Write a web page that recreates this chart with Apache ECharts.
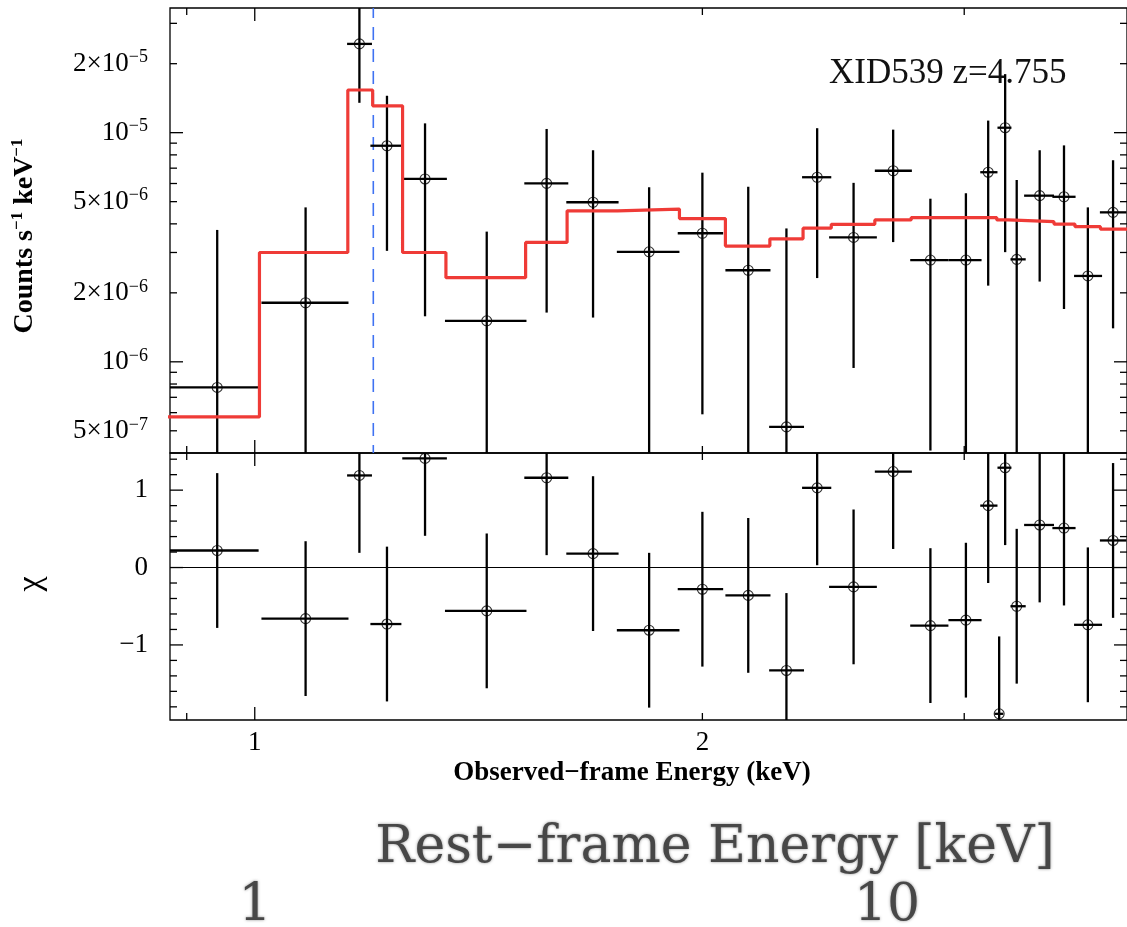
<!DOCTYPE html>
<html>
<head>
<meta charset="utf-8">
<script src="https://cdn.jsdelivr.net/npm/echarts@6/dist/echarts.min.js"></script>
<style>
  html, body { margin: 0; padding: 0; background: #fff; }
  #chart { width: 1127px; height: 927px; }
</style>
</head>
<body>
<div id="chart"></div>
<script>
// ---- Spectrum of XID539: observed-frame bins (keV) ----
const energy   = [0.9435, 1.0819, 1.1759, 1.2272, 1.3017, 1.4322, 1.5714, 1.6885, 1.8417, 2.0000, 2.1472, 2.2780, 2.3890, 2.5276, 2.6874, 2.8469, 3.0078, 3.1134, 3.1668, 3.1963, 3.2540, 3.3718, 3.5012, 3.6330, 3.7776];
const energyLo = [0.8700, 1.0104, 1.1537, 1.1961, 1.2566, 1.3425, 1.5180, 1.6200, 1.7519, 1.9251, 2.0726, 2.2178, 2.3338, 2.4336, 2.6122, 2.7593, 2.9275, 3.0754, 3.1440, 3.1585, 3.2227, 3.2915, 3.4388, 3.5562, 3.7013];
const energyHi = [1.0060, 1.1562, 1.1990, 1.2549, 1.3465, 1.5231, 1.6250, 1.7566, 1.9302, 2.0654, 2.2224, 2.3409, 2.4418, 2.6204, 2.7664, 2.9275, 3.0816, 3.1585, 3.1872, 3.2275, 3.2996, 3.4473, 3.5645, 3.7138, 3.8570];

// Count rate (counts s^-1 keV^-1) with 1-sigma errors; null = not positive
const counts    = [7.73e-7, 1.81e-6, 2.44e-5, 8.77e-6, 6.28e-6, 1.51e-6, 6.01e-6, 4.97e-6, 3.02e-6, 3.64e-6, 2.51e-6, 5.20e-7, 6.39e-6, 3.49e-6, 6.82e-6, 2.78e-6, 2.78e-6, 6.72e-6, null, 1.051e-5, 2.80e-6, 5.31e-6, 5.25e-6, 2.37e-6, 4.49e-6];
const countsErr = [2.99e-6, 2.91e-6, 1.09e-5, 5.72e-6, 4.70e-6, 2.19e-6, 4.37e-6, 3.41e-6, 2.76e-6, 3.05e-6, 3.30e-6, 3.30e-6, 4.07e-6, 2.55e-6, 3.49e-6, 2.37e-6, 2.66e-6, 4.57e-6, null, 7.50e-6, 3.42e-6, 3.07e-6, 3.55e-6, 2.35e-6, 3.09e-6];

// Residuals (data - model) / error
const chi    = [0.22, -0.66, 1.19, -0.73, 1.41, -0.56, 1.16, 0.18, -0.81, -0.28, -0.36, -1.33, 1.03, -0.25, 1.24, -0.75, -0.68, 0.80, -1.89, 1.29, -0.50, 0.55, 0.51, -0.74, 0.35];
const chiErr = [1, 1, 1, 1, 1, 1, 1, 1, 1, 1, 1, 1, 1, 1, 1, 1, 1, 1, 1, 1, 1, 1, 1, 1, 1];

// Folded model (step per channel group)
const modelEdges  = [0.870, 1.0073, 1.1550, 1.2003, 1.2572, 1.3445, 1.5211, 1.6220, 1.7539, 1.9302, 2.0726, 2.2203, 2.3374, 2.4418, 2.6122, 2.7635, 3.1551, 3.2112, 3.4473, 3.5612, 3.7047, 3.900];
const modelValues = [5.75e-7, 3.00e-6, 1.535e-5, 1.31e-5, 3.00e-6, 2.33e-6, 3.32e-6, 4.56e-6, 4.64e-6, 4.22e-6, 3.20e-6, 3.44e-6, 3.83e-6, 3.98e-6, 4.16e-6, 4.26e-6, 4.16e-6, 4.09e-6, 3.99e-6, 3.89e-6, 3.79e-6];

// Expected Fe line position (observed frame, keV)
const lineEnergy = 1.2015;

// Tick marks and labels
const energyMajorTicks = [1];
const energyMinorTicks = [0.9, 2, 3];
const energyTickLabels = [1, 2];
const countMajorTicks = [1e-6, 1e-5];
const countMinorTicks = [5e-7, 6e-7, 7e-7, 8e-7, 9e-7, 2e-6, 3e-6, 4e-6, 5e-6, 6e-6, 7e-6, 8e-6, 9e-6, 2e-5, 3e-5];
const countTickLabels = [5e-7, 1e-6, 2e-6, 5e-6, 1e-5, 2e-5];
const chiMajorTicks = [-1, 0, 1];
const chiMinorTicks = [-1.8, -1.6, -1.4, -1.2, -0.8, -0.6, -0.4, -0.2, 0.2, 0.4, 0.6, 0.8, 1.2, 1.4];
const chiTickLabels = [-1, 0, 1];
const restTickLabels = [1, 10];

// Axis ranges
const X_MIN = 0.877, X_MAX = 3.86;
const Y_MIN = 4e-7, Y_MAX = 3.5e-5;
const CHI_MIN = -1.97, CHI_MAX = 1.48;

const SERIF = '"Liberation Serif", "Times New Roman", serif';
const LABEL_FONT = '27px ' + SERIF;
const LABEL_RICH = {
  m: { fontSize: 27, fontFamily: SERIF, lineHeight: 30, fill: '#000', color: '#000' },
  s: { fontSize: 18, fontFamily: SERIF, lineHeight: 16, verticalAlign: 'top', fill: '#000', color: '#000' }
};

function fmtCount(v) {
  const e = Math.floor(Math.log10(v) + 1e-9);
  const m = Math.round(v / Math.pow(10, e));
  return '{m|' + (m === 1 ? '' : m + '×') + '10}{s|−' + (-e) + '}';
}
function fmtPlain(v) {
  return v < 0 ? '−' + Math.abs(v) : String(v);
}

// Inward ticks on all four sides plus tick labels, in the style of a PGPLOT frame
function frameRenderer(cfg) {
  return function (params, api) {
    const cs = params.coordSys;
    const L = cs.x, R = cs.x + cs.width, T = cs.y, B = cs.y + cs.height;
    const kids = [];
    const ln = (x1, y1, x2, y2) => kids.push({
      type: 'line', shape: { x1, y1, x2, y2 }, style: { stroke: '#000', lineWidth: 1.3 }
    });
    const xt = cfg.xMajor.map(v => [v, 13]).concat(cfg.xMinor.map(v => [v, 7]));
    xt.forEach(([v, len]) => {
      const x = api.coord([v, cfg.yRef])[0];
      ln(x, T, x, T + len);
      ln(x, B, x, B - len);
    });
    const yt = cfg.yMajor.map(v => [v, 13]).concat(cfg.yMinor.map(v => [v, 7]));
    yt.forEach(([v, len]) => {
      const y = api.coord([cfg.xRef, v])[1];
      ln(L, y, L + len, y);
      ln(R, y, R - len, y);
    });
    cfg.yLabels.forEach(v => {
      const y = api.coord([cfg.xRef, v])[1];
      kids.push({
        type: 'text', x: L - 22, y: y,
        style: {
          text: cfg.fmtY(v), rich: LABEL_RICH, font: LABEL_FONT, fill: '#000',
          align: 'right', verticalAlign: 'middle'
        }
      });
    });
    (cfg.xLabels || []).forEach(v => {
      const x = api.coord([v, cfg.yRef])[0];
      kids.push({
        type: 'text', x: x, y: B + 23,
        style: { text: fmtPlain(v), font: LABEL_FONT, fill: '#000', align: 'center', verticalAlign: 'middle' }
      });
    });
    return { type: 'group', children: kids };
  };
}

function clampBox(p, cs) {
  return [
    Math.min(Math.max(p[0], cs.x), cs.x + cs.width),
    Math.min(Math.max(p[1], cs.y), cs.y + cs.height)
  ];
}

// Error crosses: horizontal = bin width, vertical = +-error
function errorRenderer(yFloor) {
  return function (params, api) {
    const cs = params.coordSys;
    const x = api.value(0), y = api.value(1), err = api.value(2), lo = api.value(3), hi = api.value(4);
    const yLow = yFloor != null ? Math.max(y - err, yFloor) : y - err;
    const h1 = clampBox(api.coord([lo, y]), cs), h2 = clampBox(api.coord([hi, y]), cs);
    const v1 = clampBox(api.coord([x, y + err]), cs), v2 = clampBox(api.coord([x, yLow]), cs);
    const st = { stroke: '#000', lineWidth: 2.3 };
    return {
      type: 'group',
      children: [
        { type: 'line', shape: { x1: h1[0], y1: h1[1], x2: h2[0], y2: h2[1] }, style: st },
        { type: 'line', shape: { x1: v1[0], y1: v1[1], x2: v2[0], y2: v2[1] }, style: st }
      ]
    };
  };
}

const countRows = [], countPoints = [], chiRows = [], chiPoints = [];
energy.forEach((e, i) => {
  if (counts[i] != null) {
    countRows.push([e, counts[i], countsErr[i], energyLo[i], energyHi[i]]);
    countPoints.push([e, counts[i]]);
  }
  chiRows.push([e, chi[i], chiErr[i], energyLo[i], energyHi[i]]);
  chiPoints.push([e, chi[i]]);
});
const modelLine = modelEdges.map((e, i) => [e, modelValues[Math.min(i, modelValues.length - 1)]]);

const gridStyle = { show: true, borderColor: '#000', borderWidth: 1.3, backgroundColor: 'transparent' };
const hiddenAxis = {
  axisLine: { show: false }, axisTick: { show: false }, axisLabel: { show: false }, splitLine: { show: false }
};

const option = {
  animation: false,
  backgroundColor: '#fff',
  grid: [
    Object.assign({ left: 170, right: -3, top: 8, height: 445 }, gridStyle),
    Object.assign({ left: 170, right: -3, top: 453, height: 267 }, gridStyle),
    { left: 255, right: 240, top: 904, height: 4, show: false }
  ],
  xAxis: [
    Object.assign({ type: 'log', gridIndex: 0, min: X_MIN, max: X_MAX }, hiddenAxis),
    Object.assign({ type: 'log', gridIndex: 1, min: X_MIN, max: X_MAX }, hiddenAxis),
    Object.assign({ type: 'log', gridIndex: 2, min: 1, max: 10 }, hiddenAxis)
  ],
  yAxis: [
    Object.assign({ type: 'log', gridIndex: 0, min: Y_MIN, max: Y_MAX }, hiddenAxis),
    Object.assign({ type: 'value', gridIndex: 1, min: CHI_MIN, max: CHI_MAX }, hiddenAxis),
    Object.assign({ type: 'value', gridIndex: 2, min: 0, max: 1 }, hiddenAxis)
  ],
  graphic: [
    {
      type: 'text', x: 25, y: 236, rotation: Math.PI / 2, silent: true,
      style: {
        text: '{b|Counts s}{s|−1}{b| keV}{s|−1}',
        rich: {
          b: { fontSize: 28, fontWeight: 'bold', fontFamily: SERIF, lineHeight: 31, fill: '#000', color: '#000' },
          s: { fontSize: 17, fontWeight: 'bold', fontFamily: SERIF, lineHeight: 16, verticalAlign: 'top', fill: '#000', color: '#000' }
        },
        align: 'center', verticalAlign: 'middle'
      }
    },
    {
      type: 'text', x: 31, y: 584, rotation: Math.PI / 2, silent: true,
      style: { text: 'χ', font: '34px ' + SERIF, fill: '#000', align: 'center', verticalAlign: 'middle' }
    },
    {
      type: 'text', x: 632, y: 773, silent: true,
      style: { text: 'Observed−frame Energy (keV)', font: 'bold 27px ' + SERIF, fill: '#000', align: 'center', verticalAlign: 'middle' }
    },
    {
      type: 'text', x: 829, y: 74, silent: true,
      style: { text: 'XID539 z=4.755', font: '35px ' + SERIF, fill: '#111', align: 'left', verticalAlign: 'middle' }
    },
    {
      type: 'text', x: 715, y: 848, silent: true,
      style: {
        text: 'Rest−frame Energy [keV]', font: '52px "DejaVu Serif", serif', fill: '#474747',
        align: 'center', verticalAlign: 'middle', textShadowColor: 'rgba(70,70,70,0.6)', textShadowBlur: 3
      }
    }
  ],
  series: [
    // Top panel: frame ticks and labels
    {
      type: 'custom', xAxisIndex: 0, yAxisIndex: 0, silent: true, clip: false, z: 5,
      data: [[1, 1e-6]],
      renderItem: frameRenderer({
        xMajor: energyMajorTicks, xMinor: energyMinorTicks, yMajor: countMajorTicks, yMinor: countMinorTicks,
        yLabels: countTickLabels, fmtY: fmtCount, xRef: 1, yRef: 1e-6
      })
    },
    // Fe line marker
    {
      type: 'line', xAxisIndex: 0, yAxisIndex: 0, silent: true, symbol: 'none', z: 2,
      data: [[lineEnergy, Y_MIN], [lineEnergy, Y_MAX]],
      lineStyle: { color: '#3f72f2', width: 1.6, type: [13, 9], dashOffset: 5 }
    },
    // Data error crosses
    {
      type: 'custom', xAxisIndex: 0, yAxisIndex: 0, silent: true, clip: true, z: 3,
      data: countRows, renderItem: errorRenderer(Y_MIN * 0.5)
    },
    {
      type: 'scatter', xAxisIndex: 0, yAxisIndex: 0, silent: true, z: 4,
      data: countPoints, symbol: 'circle', symbolSize: 10,
      itemStyle: { color: 'rgba(0,0,0,0)', borderColor: '#000', borderWidth: 1.1 }
    },
    // Model
    {
      type: 'line', xAxisIndex: 0, yAxisIndex: 0, silent: true, symbol: 'none', step: 'end', z: 6,
      data: modelLine,
      lineStyle: { color: '#ef3b37', width: 3.2 }
    },
    // Residual panel
    {
      type: 'custom', xAxisIndex: 1, yAxisIndex: 1, silent: true, clip: false, z: 5,
      data: [[1, 0]],
      renderItem: frameRenderer({
        xMajor: energyMajorTicks, xMinor: energyMinorTicks, yMajor: chiMajorTicks, yMinor: chiMinorTicks,
        yLabels: chiTickLabels, fmtY: fmtPlain, xLabels: energyTickLabels, xRef: 1, yRef: 0
      })
    },
    {
      type: 'custom', xAxisIndex: 1, yAxisIndex: 1, silent: true, clip: true, z: 3,
      data: chiRows, renderItem: errorRenderer(null)
    },
    {
      type: 'scatter', xAxisIndex: 1, yAxisIndex: 1, silent: true, z: 4,
      data: chiPoints, symbol: 'circle', symbolSize: 10,
      itemStyle: { color: 'rgba(0,0,0,0)', borderColor: '#000', borderWidth: 1.1 },
      markLine: {
        silent: true, symbol: 'none', label: { show: false },
        lineStyle: { color: '#000', width: 1, type: 'solid' },
        data: [{ yAxis: 0 }]
      }
    },
    // Rest-frame energy scale labels
    {
      type: 'custom', xAxisIndex: 2, yAxisIndex: 2, silent: true, clip: false,
      data: [[1, 0.5]],
      renderItem: function (params, api) {
        const cs = params.coordSys;
        return {
          type: 'group',
          children: restTickLabels.map(v => ({
            type: 'text', x: api.coord([v, 0.5])[0], y: cs.y + cs.height / 2,
            style: {
              text: String(v), font: '52px "DejaVu Serif", serif', fill: '#474747',
              align: 'center', verticalAlign: 'middle',
              textShadowColor: 'rgba(70,70,70,0.6)', textShadowBlur: 3
            }
          }))
        };
      }
    }
  ]
};

const chart = echarts.init(document.getElementById('chart'), null, { renderer: 'canvas' });
chart.setOption(option);
</script>
</body>
</html>
